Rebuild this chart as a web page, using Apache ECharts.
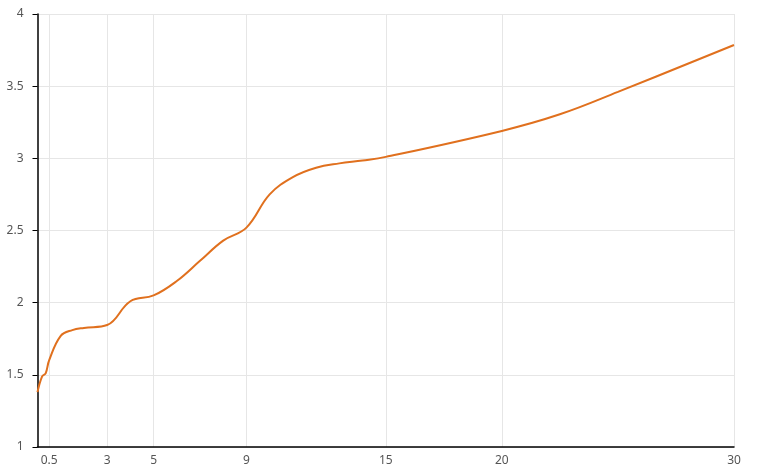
<!DOCTYPE html>
<html>
<head>
<meta charset="utf-8">
<script src="https://cdn.jsdelivr.net/npm/echarts@6/dist/echarts.min.js"></script>
<style>
html,body{margin:0;padding:0;background:#fff;}
#chart{width:760px;height:472px;}
</style>
</head>
<body>
<div id="chart"></div>
<script>
var xValues = [0, 0.2, 0.35, 0.5, 1, 1.5, 2, 3, 4, 5, 6, 7, 8, 9, 10, 11, 12, 13, 14, 15, 20, 22.5, 25, 30];
var yValues = [1.38, 1.49, 1.51, 1.6, 1.77, 1.81, 1.825, 1.845, 2.01, 2.05, 2.15, 2.29, 2.43, 2.52, 2.75, 2.87, 2.935, 2.965, 2.985, 3.01, 3.19, 3.305, 3.46, 3.785];
var xTickLabels = [0.5, 3, 5, 9, 15, 20, 30];

var seriesData = xValues.map(function (x, i) { return [x, yValues[i]]; });

var chart = echarts.init(document.getElementById('chart'), null, {renderer: 'canvas'});
chart.setOption({
  backgroundColor: '#ffffff',
  animation: false,
  grid: {left: 37.5, right: 26, top: 14, bottom: 25, containLabel: false},
  xAxis: {
    type: 'value',
    min: 0,
    max: 30,
    axisLine: {show: true, lineStyle: {color: '#000', width: 1.5}},
    axisTick: {show: false, customValues: xTickLabels},
    axisLabel: {
      customValues: xTickLabels,
      color: '#555',
      fontSize: 12,
      fontFamily: 'Noto Sans, sans-serif',
      margin: 8
    },
    splitLine: {show: true, lineStyle: {color: '#e6e6e6', width: 1}}
  },
  yAxis: {
    type: 'value',
    min: 1,
    max: 4,
    interval: 0.5,
    axisLine: {show: true, lineStyle: {color: '#000', width: 1.5}},
    axisTick: {show: true, length: 5, lineStyle: {color: '#000'}},
    axisLabel: {
      color: '#555',
      fontSize: 12,
      fontFamily: 'Noto Sans, sans-serif',
      margin: 14
    },
    splitLine: {show: true, lineStyle: {color: '#e6e6e6', width: 1}}
  },
  series: [{
    type: 'line',
    data: seriesData,
    smooth: 0.4,
    showSymbol: false,
    lineStyle: {color: '#e0701e', width: 2},
    itemStyle: {color: '#e0701e'}
  }]
});
</script>
</body>
</html>
